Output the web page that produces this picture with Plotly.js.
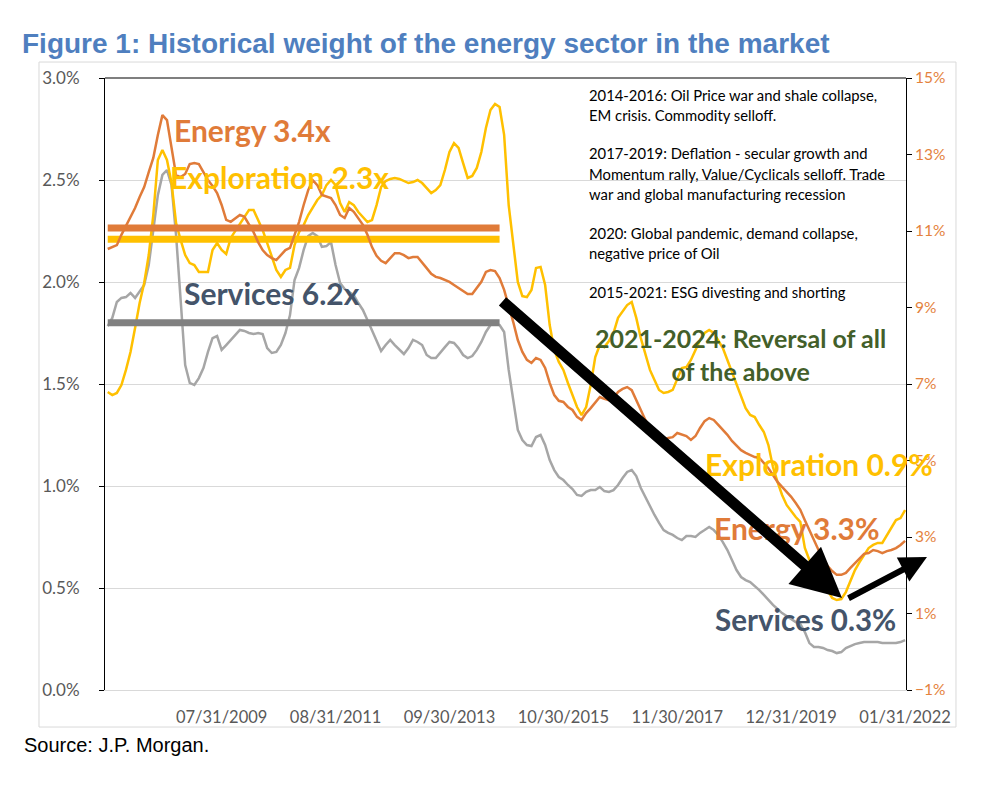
<!DOCTYPE html>
<html>
<head>
<meta charset="utf-8">
<script src="https://cdn.plot.ly/plotly-3.0.1.min.js"></script>
<style>html,body{margin:0;padding:0;background:#fff;}#chart{width:983px;height:790px;}</style>
</head>
<body>
<div id="chart"></div>
<script>
// Monthly observations, business month-end, June 2007 through January 2022
const firstYear = 2007, firstMonth = 6;

// Energy sector weight (right axis, %)
const energy = [
10.53,10.58,10.63,10.90,11.13,11.34,11.60,11.89,12.15,12.54,12.91,13.51,14.03,13.90,13.12,12.46,12.41,12.49,12.75,12.78,
12.75,12.54,12.33,12.18,11.99,11.68,11.29,11.24,11.34,11.42,11.37,11.18,10.97,10.71,10.50,10.37,10.29,10.24,10.37,10.50,
10.56,10.90,11.24,11.68,12.07,12.33,12.20,11.94,11.89,11.86,11.68,11.42,11.34,11.60,11.50,11.34,11.16,10.90,10.58,10.35,
10.22,10.16,10.29,10.42,10.42,10.37,10.29,10.32,10.32,10.16,10.03,9.88,9.80,9.77,9.72,9.67,9.59,9.51,9.41,9.35,
9.35,9.51,9.67,9.93,9.98,9.95,9.77,9.46,9.07,8.62,8.15,7.84,7.63,7.55,7.68,7.63,7.42,7.03,6.71,6.56,
6.53,6.40,6.32,6.14,6.06,6.24,6.37,6.53,6.66,6.61,6.58,6.63,6.79,6.87,6.92,6.84,6.58,6.32,6.06,5.85,
5.69,5.59,5.54,5.59,5.61,5.72,5.69,5.64,5.54,5.64,5.85,6.03,6.11,6.06,5.93,5.80,5.67,5.51,5.38,5.27,
5.20,5.14,5.09,5.07,4.93,4.80,4.62,4.44,4.31,4.18,4.05,3.89,3.71,3.44,3.18,2.92,2.66,2.45,2.24,2.11,
2.01,2.01,2.06,2.19,2.32,2.45,2.56,2.58,2.66,2.63,2.58,2.63,2.66,2.71,2.79,2.90];

// Exploration weight (left axis, %)
const exploration = [
1.461,1.446,1.456,1.495,1.569,1.657,1.775,1.897,1.995,2.132,2.328,2.598,2.647,2.598,2.485,2.289,2.206,2.132,2.093,2.083,
2.049,2.049,2.049,2.157,2.191,2.157,2.137,2.216,2.250,2.279,2.314,2.353,2.353,2.304,2.255,2.191,2.127,2.059,2.025,2.059,
2.069,2.181,2.245,2.279,2.328,2.363,2.402,2.426,2.475,2.500,2.475,2.387,2.343,2.392,2.377,2.343,2.319,2.294,2.304,2.377,
2.466,2.495,2.505,2.510,2.505,2.495,2.485,2.490,2.500,2.485,2.461,2.436,2.451,2.475,2.549,2.637,2.681,2.657,2.583,2.510,
2.520,2.559,2.637,2.755,2.843,2.873,2.858,2.721,2.377,2.181,2.000,1.931,1.926,1.961,2.069,2.074,1.985,1.789,1.667,1.608,
1.569,1.505,1.446,1.387,1.348,1.387,1.495,1.632,1.691,1.681,1.711,1.750,1.824,1.858,1.887,1.902,1.824,1.725,1.652,1.569,
1.520,1.471,1.456,1.461,1.471,1.529,1.578,1.583,1.618,1.667,1.716,1.750,1.765,1.750,1.716,1.676,1.618,1.559,1.495,1.436,
1.382,1.348,1.338,1.299,1.265,1.201,1.093,1.020,0.956,0.907,0.877,0.848,0.824,0.696,0.637,0.603,0.564,0.525,0.490,0.451,
0.441,0.446,0.480,0.539,0.588,0.627,0.662,0.696,0.711,0.721,0.721,0.760,0.799,0.833,0.843,0.882];

// Services weight (left axis, %)
const services = [
1.784,1.824,1.902,1.922,1.926,1.946,1.922,1.951,1.985,2.083,2.245,2.426,2.525,2.549,2.475,2.230,1.912,1.593,1.505,1.495,
1.529,1.578,1.657,1.725,1.735,1.667,1.691,1.716,1.745,1.765,1.760,1.750,1.745,1.750,1.745,1.676,1.652,1.657,1.691,1.750,
1.838,2.010,2.069,2.157,2.225,2.240,2.225,2.172,2.176,2.196,2.083,1.995,1.966,1.951,1.936,1.897,1.863,1.814,1.765,1.716,
1.662,1.691,1.716,1.691,1.667,1.647,1.676,1.716,1.706,1.691,1.642,1.627,1.627,1.657,1.681,1.706,1.701,1.676,1.642,1.627,
1.637,1.667,1.706,1.755,1.789,1.799,1.789,1.755,1.569,1.422,1.275,1.225,1.201,1.196,1.240,1.250,1.201,1.127,1.078,1.044,
1.029,1.005,0.985,0.956,0.951,0.971,0.980,0.980,0.995,0.975,0.971,0.980,1.005,1.039,1.069,1.078,1.049,0.990,0.946,0.897,
0.858,0.819,0.784,0.770,0.760,0.745,0.735,0.755,0.755,0.750,0.770,0.784,0.799,0.784,0.760,0.725,0.686,0.637,0.588,0.554,
0.539,0.529,0.510,0.490,0.466,0.441,0.417,0.397,0.377,0.363,0.348,0.333,0.324,0.284,0.230,0.211,0.211,0.206,0.196,0.191,
0.181,0.186,0.206,0.216,0.225,0.230,0.235,0.235,0.235,0.235,0.230,0.230,0.230,0.230,0.235,0.245];

// Historical averages (2007 - Aug 2014)
const avgEndDate = '08/29/2014';
const energyAvg = 11.08;       // right axis
const explorationAvg = 2.21;   // left axis
const servicesAvg = 1.80;      // left axis

const tickLabels = ['07/31/2009','08/31/2011','09/30/2013','10/30/2015','11/30/2017','12/31/2019','01/31/2022'];

const textBlock = [
 '2014-2016: Oil Price war and shale collapse,',
 'EM crisis. Commodity selloff.',
 '2017-2019: Deflation - secular growth and',
 'Momentum rally, Value/Cyclicals selloff. Trade',
 'war and global manufacturing recession',
 '2020: Global pandemic, demand collapse,',
 'negative price of Oil',
 '2015-2021: ESG divesting and shorting'
];
const textBlockY = [0.9722,0.9395,0.8775,0.8431,0.8105,0.7467,0.7141,0.6503];

function pad(n){return (n<10?'0':'')+n;}
function businessMonthEnd(y, m){
  const d = new Date(Date.UTC(y, m, 0));
  const wd = d.getUTCDay();
  if (wd === 6) d.setUTCDate(d.getUTCDate()-1);
  else if (wd === 0) d.setUTCDate(d.getUTCDate()-2);
  return pad(d.getUTCMonth()+1)+'/'+pad(d.getUTCDate())+'/'+d.getUTCFullYear();
}
const dates = [];
for (let i = 0; i < energy.length; i++) {
  const t = firstMonth - 1 + i;
  dates.push(businessMonthEnd(firstYear + Math.floor(t/12), (t%12)+1));
}
const avgEndIdx = dates.indexOf(avgEndDate);
const avgDates = [dates[0], dates[avgEndIdx]];

const ORANGE = '#E07B39', YELLOW = '#FFC000', GRAY = '#A6A6A6', DGRAY = '#808080';
const SLATE = '#44546A', GREEN = '#435F2A';
const FONT = 'Lato, "Open Sans", sans-serif';

const traces = [
  {x: dates, y: services, type: 'scatter', mode: 'lines', line: {color: GRAY, width: 2.5}, yaxis: 'y'},
  {x: dates, y: exploration, type: 'scatter', mode: 'lines', line: {color: YELLOW, width: 2.5}, yaxis: 'y'},
  {x: dates, y: energy, type: 'scatter', mode: 'lines', line: {color: ORANGE, width: 2.5}, yaxis: 'y2'},
  {x: avgDates, y: [energyAvg, energyAvg], type: 'scatter', mode: 'lines', line: {color: ORANGE, width: 7}, yaxis: 'y2'},
  {x: avgDates, y: [explorationAvg, explorationAvg], type: 'scatter', mode: 'lines', line: {color: YELLOW, width: 7}, yaxis: 'y'},
  {x: avgDates, y: [servicesAvg, servicesAvg], type: 'scatter', mode: 'lines', line: {color: DGRAY, width: 7}, yaxis: 'y'}
];

function lbl(text, x, y, color, size, xanchor){
  return {text: '<b>'+text+'</b>', xref: 'paper', yref: 'paper', x: x, y: y, xanchor: xanchor||'left', yanchor: 'middle',
          showarrow: false, font: {family: FONT, size: size, color: color}, align: 'center'};
}

const annotations = [
  lbl('Energy 3.4x', 0.0836, 0.915, ORANGE, 30),
  lbl('Exploration 2.3x', 0.0787, 0.838, YELLOW, 30),
  lbl('Services 6.2x', 0.0961, 0.6487, SLATE, 30),
  lbl('2021-2024: Reversal of all<br>of the above', 0.794, 0.548, GREEN, 25, 'center'),
  lbl('Exploration 0.9%', 0.7466, 0.3693, YELLOW, 30),
  lbl('Energy 3.3%', 0.7578, 0.2647, ORANGE, 30),
  lbl('Services 0.3%', 0.759, 0.1144, SLATE, 29.5)
];
textBlock.forEach((t, i) => annotations.push({
  text: t, xref: 'paper', yref: 'paper', x: 0.6017, y: textBlockY[i], xanchor: 'left', yanchor: 'middle',
  showarrow: false, font: {family: FONT, size: 14.8, color: '#000'}
}));
annotations.push({text: 'Source: J.P. Morgan.', xref: 'paper', yref: 'paper', x: -0.1036, y: -0.0899,
  xanchor: 'left', yanchor: 'middle', showarrow: false,
  font: {family: '"Liberation Sans", Arial, sans-serif', size: 20, color: '#000'}});
// arrows
annotations.push({text: '', xref: 'paper', yref: 'paper', x: 0.9201, y: 0.1503, ax: -341, ay: -298,
  showarrow: true, arrowhead: 2, arrowsize: 0.9, arrowwidth: 11, arrowcolor: '#000'});
annotations.push({text: '', xref: 'paper', yref: 'paper', x: 1.0262, y: 0.2173, ax: -80, ay: 42,
  showarrow: true, arrowhead: 2, arrowsize: 0.9, arrowwidth: 6, arrowcolor: '#000'});

const layout = {
  width: 983, height: 790,
  margin: {l: 105, r: 77, t: 78, b: 100},
  paper_bgcolor: '#fff', plot_bgcolor: '#fff',
  showlegend: false,
  title: {text: '<b>Figure 1: Historical weight of the energy sector in the market</b>',
    xref: 'container', yref: 'container', x: 0.0224, xanchor: 'left', y: 1 - 43/790, yanchor: 'middle',
    font: {family: '"Liberation Sans", Arial, sans-serif', size: 28, color: '#4F7FBF'}},
  xaxis: {type: 'category', range: [-0.6, 175.2], tickmode: 'array', tickvals: tickLabels, ticktext: tickLabels,
    showgrid: false, showline: true, linecolor: '#D9D9D9', linewidth: 1, ticks: '', zeroline: false,
    ticklabelstandoff: 12,
    tickfont: {family: FONT, size: 16.5, color: '#595959'}, tickangle: 0},
  yaxis: {range: [0, 3], dtick: 0.5, tick0: 0, tickformat: '.1f', ticksuffix: '%', showgrid: true, gridcolor: '#D9D9D9',
    showline: true, linecolor: '#000', linewidth: 1, ticks: 'outside', ticklen: 5, tickcolor: '#000', zeroline: false,
    ticklabelstandoff: 16,
    tickfont: {family: FONT, size: 17, color: '#595959'}},
  yaxis2: {overlaying: 'y', side: 'right', range: [-1, 15], dtick: 2, tick0: -1, ticksuffix: '%', showgrid: false,
    showline: true, linecolor: '#000', linewidth: 1, ticks: 'outside', ticklen: 5, tickcolor: '#000', zeroline: false,
    tickfont: {family: FONT, size: 15.5, color: '#E4823D'}},
  shapes: [
    {type: 'rect', xref: 'paper', yref: 'paper', x0: -0.0824, x1: 1.0624, y0: -0.0605, y1: 1.0261,
     line: {color: '#D9D9D9', width: 1}, layer: 'below'},
    {type: 'line', xref: 'paper', yref: 'paper', x0: 0, x1: 1, y0: 1, y1: 1, line: {color: '#7F7F7F', width: 2}}
  ],
  annotations: annotations
};

Plotly.newPlot('chart', traces, layout, {displayModeBar: false, staticPlot: true});
</script>
</body>
</html>
